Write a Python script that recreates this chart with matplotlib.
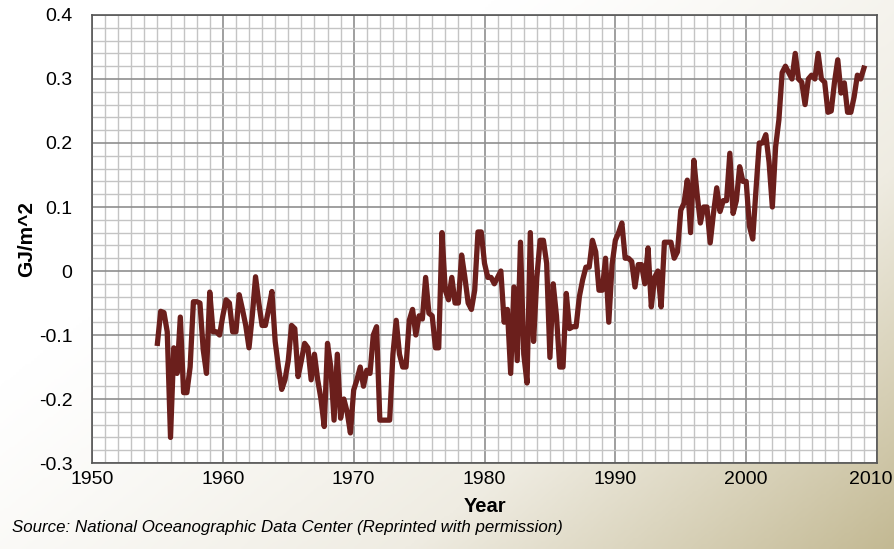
import numpy as np
import matplotlib
matplotlib.use("Agg")
import matplotlib.pyplot as plt
import matplotlib.transforms as mtransforms
from matplotlib.colors import LinearSegmentedColormap
from matplotlib.ticker import MultipleLocator

# Ocean heat content anomaly, quarterly values (GJ/m^2)
start_year = 1955.0
heat_content = [
    -0.113, -0.063, -0.065, -0.095,   # 1955
    -0.26, -0.12, -0.16, -0.072,      # 1956
    -0.19, -0.19, -0.15, -0.048,      # 1957
    -0.048, -0.05, -0.123, -0.16,     # 1958
    -0.033, -0.095, -0.095, -0.1,     # 1959
    -0.07, -0.045, -0.05, -0.095,     # 1960
    -0.095, -0.037, -0.06, -0.085,    # 1961
    -0.12, -0.07, -0.009, -0.05,      # 1962
    -0.085, -0.085, -0.06, -0.032,    # 1963
    -0.11, -0.15, -0.185, -0.17,      # 1964
    -0.14, -0.085, -0.09, -0.165,     # 1965
    -0.14, -0.113, -0.12, -0.17,      # 1966
    -0.13, -0.17, -0.2, -0.243,       # 1967
    -0.113, -0.15, -0.233, -0.13,     # 1968
    -0.23, -0.2, -0.22, -0.253,       # 1969
    -0.186, -0.17, -0.15, -0.18,      # 1970
    -0.155, -0.16, -0.1, -0.087,      # 1971
    -0.233, -0.233, -0.233, -0.233,   # 1972
    -0.13, -0.077, -0.13, -0.15,      # 1973
    -0.15, -0.077, -0.06, -0.1,       # 1974
    -0.07, -0.075, -0.01, -0.066,     # 1975
    -0.07, -0.12, -0.12, 0.06,        # 1976
    -0.03, -0.045, -0.01, -0.05,      # 1977
    -0.05, 0.025, -0.01, -0.05,       # 1978
    -0.06, -0.03, 0.061, 0.061,       # 1979
    0.012, -0.01, -0.01, -0.02,       # 1980
    -0.01, 0.0, -0.08, -0.06,         # 1981
    -0.16, -0.025, -0.14, 0.045,      # 1982
    -0.13, -0.175, 0.06, -0.11,       # 1983
    -0.01, 0.048, 0.048, 0.012,       # 1984
    -0.135, -0.02, -0.07, -0.15,      # 1985
    -0.15, -0.035, -0.09, -0.087,     # 1986
    -0.087, -0.04, -0.014, 0.006,     # 1987
    0.006, 0.048, 0.03, -0.03,        # 1988
    -0.03, 0.02, -0.08, 0.01,         # 1989
    0.048, 0.06, 0.075, 0.02,         # 1990
    0.02, 0.015, -0.025, 0.01,        # 1991
    0.01, -0.02, 0.036, -0.056,       # 1992
    -0.01, 0.0, -0.056, 0.045,        # 1993
    0.045, 0.045, 0.02, 0.03,         # 1994
    0.095, 0.106, 0.142, 0.06,        # 1995
    0.173, 0.12, 0.075, 0.1,          # 1996
    0.1, 0.044, 0.09, 0.13,           # 1997
    0.093, 0.11, 0.11, 0.184,         # 1998
    0.09, 0.11, 0.163, 0.14,          # 1999
    0.14, 0.07, 0.05, 0.127,          # 2000
    0.2, 0.2, 0.213, 0.17,            # 2001
    0.1, 0.194, 0.236, 0.31,          # 2002
    0.32, 0.31, 0.3, 0.34,            # 2003
    0.3, 0.295, 0.26, 0.3,            # 2004
    0.306, 0.3, 0.34, 0.3,            # 2005
    0.295, 0.248, 0.25, 0.295,        # 2006
    0.33, 0.278, 0.294, 0.248,        # 2007
    0.248, 0.272, 0.306, 0.3,         # 2008
    0.317,                            # 2009
]
years = start_year + 0.25 * np.arange(len(heat_content))

x_ticks = [1950, 1960, 1970, 1980, 1990, 2000, 2010]
y_ticks = [-0.3, -0.2, -0.1, 0, 0.1, 0.2, 0.3, 0.4]
y_tick_labels = ["-0.3", "-0.2", "-0.1", "0", "0.1", "0.2", "0.3", "0.4"]

plt.rcParams["font.family"] = ["Liberation Sans", "DejaVu Sans"]

fig = plt.figure(figsize=(8.95, 5.49), dpi=100)

# fondo degradado blanco -> beige
bg = fig.add_axes([0, 0, 1, 1], zorder=-10)
gx, gy = np.meshgrid(np.linspace(0, 1, 300), np.linspace(0, 1, 200))
grad = np.clip(0.7 * gx + 0.55 * gy - 0.38, 0, 1) ** 1.2
cmap_bg = LinearSegmentedColormap.from_list("bg", ["#ffffff", "#efece2", "#c3b993"])
bg.imshow(grad, cmap=cmap_bg, aspect="auto", extent=[0, 1, 0, 1], origin="upper")
bg.set_axis_off()

ax = fig.add_axes([0.1028, 0.1566, 0.8771, 0.8161])
ax.set_facecolor("white")
ax.plot(years, heat_content, color="#6b1f1c", linewidth=3.8, solid_joinstyle="round",
        zorder=3)

ax.set_xlim(1950, 2010)
ax.set_ylim(-0.3, 0.4)
ax.set_xticks(x_ticks)
ax.set_yticks(y_ticks)
ax.set_yticklabels(y_tick_labels)
ax.xaxis.set_minor_locator(MultipleLocator(1))
ax.yaxis.set_minor_locator(MultipleLocator(0.02))
ax.grid(which="minor", color="#c4c4c4", linewidth=1.0)
ax.grid(which="major", color="#8f8f8f", linewidth=1.2)
ax.set_axisbelow(True)
ax.tick_params(which="both", length=0, labelsize=14, colors="black")
ax.tick_params(axis="y", pad=14)
ax.tick_params(axis="x", pad=6)
# desplazar un poco el ultimo rotulo para que no se corte
shift = mtransforms.ScaledTranslation(-0.06, 0, fig.dpi_scale_trans)
last = ax.get_xticklabels()[-1]
last.set_transform(last.get_transform() + shift)
for s in ax.spines.values():
    s.set_color("#555555")
    s.set_linewidth(1.2)

ax.set_xlabel("Year", fontsize=14.5, fontweight="bold", labelpad=6)
ax.set_ylabel("GJ/m^2", fontsize=15, fontweight="bold", labelpad=2)

fig.text(0.013, 0.025, "Source: National Oceanographic Data Center (Reprinted with permission)",
         fontsize=12.2, style="italic", ha="left", va="bottom")

fig.savefig("out.png", dpi=100)
